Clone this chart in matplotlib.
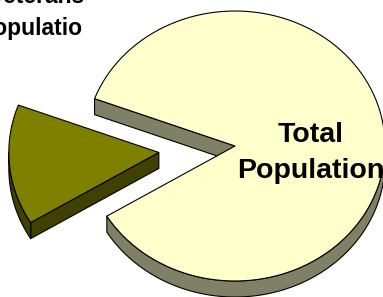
import numpy as np
import matplotlib
matplotlib.use('Agg')
import matplotlib.pyplot as plt
from matplotlib.patches import Polygon, Rectangle

# ---- data ----
categories = ['Veterans\nPopulation', 'Total\nPopulation']
values = [14.4, 85.6]

# ---- style ----
top_colors = ['#808000', '#FFFFCC']
side_colors = ['#404000', '#808066']
explode = [0.51, 0.0]
start_angle = 148.7  # degrees, clockwise on screen

W, H = 383, 297
fig = plt.figure(figsize=(W / 100, H / 100), dpi=100)
ax = fig.add_axes([0, 0, 1, 1])
ax.set_xlim(0, W)
ax.set_ylim(H, 0)
ax.axis('off')

cx, cy, rx, ry, depth = 235.0, 146.0, 150.0, 135.0, 16.0
lw = 0.8


def arc(a1, a2, ox, oy, dz=0.0, n=120):
    t = np.radians(np.linspace(a1, a2, n))
    return np.column_stack([ox + cx + rx * np.cos(t), oy + cy + ry * np.sin(t) + dz])


fracs = np.array(values, dtype=float) / sum(values)
bounds = start_angle + 360 * np.concatenate([[0], np.cumsum(fracs)])

for i in range(len(values)):
    a1, a2 = bounds[i], bounds[i + 1]
    mid = np.radians((a1 + a2) / 2)
    ox = explode[i] * rx * np.cos(mid)
    oy = explode[i] * ry * np.sin(mid)
    c = np.array([cx + ox, cy + oy])
    kw = dict(edgecolor='black', linewidth=lw, joinstyle='round')
    # radial side faces
    for ang, visible in ((a1, np.cos(np.radians(a1)) < 0), (a2, np.cos(np.radians(a2)) > 0)):
        if visible:
            p = arc(ang, ang, ox, oy, n=1)[0]
            poly = [c, p, p + [0, depth], c + [0, depth]]
            ax.add_patch(Polygon(poly, closed=True, facecolor=side_colors[i], **kw))
    # outer wall (front half only)
    for k in range(-1, 3):
        lo = max(a1, 360 * k)
        hi = min(a2, 360 * k + 180)
        if hi > lo:
            topa = arc(lo, hi, ox, oy)
            bota = arc(hi, lo, ox, oy, dz=depth)
            ax.add_patch(Polygon(np.vstack([topa, bota]), closed=True,
                                 facecolor=side_colors[i], **kw))
    # top face
    pts = np.vstack([c, arc(a1, a2, ox, oy)])
    ax.add_patch(Polygon(pts, closed=True, facecolor=top_colors[i], **kw))

font = dict(family='Liberation Sans', weight='bold', color='black')
t1 = ax.text(37.6, 35, categories[0], ha='center', va='baseline', fontsize=16.5,
             multialignment='center', linespacing=1.5, clip_on=True, **font)
t1.set_clip_path(Rectangle((0, 0), 83, H, transform=ax.transData))
ax.text(311, 178, categories[1], ha='center', va='baseline', fontsize=20.5,
        multialignment='center', linespacing=1.5, **font)

fig.savefig('out.png', dpi=100)
